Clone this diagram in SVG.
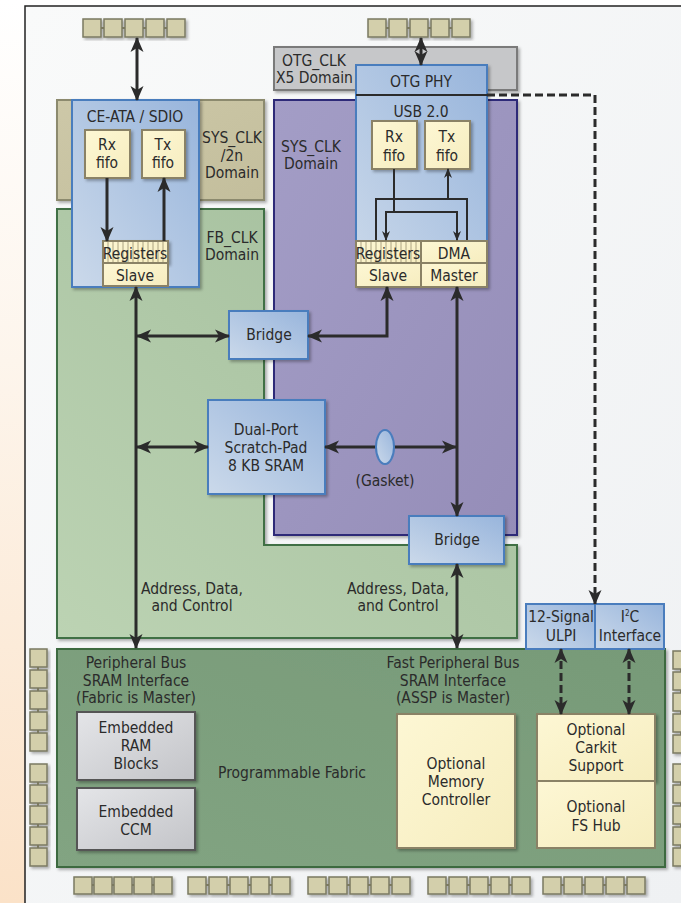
<svg xmlns="http://www.w3.org/2000/svg" width="681" height="903" viewBox="0 0 681 903">
<defs>
  <linearGradient id="gPeach" x1="0" y1="0" x2="0" y2="1">
    <stop offset="0" stop-color="#ffffff"/><stop offset="0.4" stop-color="#fdf5ec"/><stop offset="1" stop-color="#fbe2c8"/>
  </linearGradient>
  <linearGradient id="gBg" x1="0" y1="0" x2="1" y2="1">
    <stop offset="0" stop-color="#f9fafa"/><stop offset="1" stop-color="#eff1f3"/>
  </linearGradient>
  <linearGradient id="gBlue" x1="0" y1="1" x2="1" y2="0">
    <stop offset="0" stop-color="#cbd9ea"/><stop offset="1" stop-color="#98b5dc"/>
  </linearGradient>
  <linearGradient id="gYel" x1="0" y1="0" x2="1" y2="1">
    <stop offset="0" stop-color="#fdf7d4"/><stop offset="1" stop-color="#f6edbf"/>
  </linearGradient>
  <linearGradient id="gGreen" x1="0" y1="1" x2="1" y2="0">
    <stop offset="0" stop-color="#bcd3b3"/><stop offset="1" stop-color="#a2bd9b"/>
  </linearGradient>
  <linearGradient id="gPurple" x1="0" y1="0" x2="1" y2="1">
    <stop offset="0" stop-color="#a39dc6"/><stop offset="1" stop-color="#958db8"/>
  </linearGradient>
  <linearGradient id="gFab" x1="0" y1="1" x2="1" y2="0">
    <stop offset="0" stop-color="#82a482"/><stop offset="1" stop-color="#779a78"/>
  </linearGradient>
  <linearGradient id="gGray" x1="0" y1="0" x2="1" y2="1">
    <stop offset="0" stop-color="#e4e5e8"/><stop offset="1" stop-color="#c3c4c8"/>
  </linearGradient>
  <linearGradient id="gTan" x1="0" y1="0" x2="1" y2="1">
    <stop offset="0" stop-color="#cdc8a8"/><stop offset="1" stop-color="#c3be9c"/>
  </linearGradient>
  <filter id="sh" x="-10%" y="-10%" width="130%" height="130%">
    <feDropShadow dx="2" dy="2" stdDeviation="1.5" flood-color="#000" flood-opacity="0.3"/>
  </filter>
  <marker id="ah" markerUnits="userSpaceOnUse" markerWidth="15" markerHeight="15" refX="14" refY="7.5" orient="auto-start-reverse">
    <path d="M0,1 L15,7.5 L0,14 L4,7.5 Z" fill="#2b2b2b"/>
  </marker>
  <marker id="ahs" markerUnits="userSpaceOnUse" markerWidth="10" markerHeight="10" refX="9" refY="5" orient="auto-start-reverse">
    <path d="M0,1 L10,5 L0,9 L3,5 Z" fill="#2b2b2b"/>
  </marker>
  <style>
    .t{font-family:'DejaVu Sans Condensed','DejaVu Sans',sans-serif;font-stretch:condensed;font-size:15.5px;fill:#2b2b2b;text-anchor:middle}
    .tl{text-anchor:start}
    .pad{fill:#d3cfab;stroke:#7b7a62;stroke-width:1.5}
    .padln{stroke:#7b7a62;stroke-width:2}
    .blue{fill:url(#gBlue);stroke:#4a7dbd;stroke-width:2}
    .yel{fill:url(#gYel);stroke:#8a8266;stroke-width:2}
    .gray{fill:url(#gGray);stroke:#555;stroke-width:2}
    .ar{fill:none;stroke:#2b2b2b;stroke-width:3}
    .ars{fill:none;stroke:#2b2b2b;stroke-width:2}
    .dash{fill:none;stroke:#2b2b2b;stroke-width:3;stroke-dasharray:8 4}
    .tick{stroke:#9a9070;stroke-width:0.8}
  </style>
</defs>

<!-- background -->
<rect x="0" y="0" width="681" height="903" fill="#ffffff"/>
<rect x="0" y="0" width="25" height="903" fill="url(#gPeach)"/>
<rect x="25" y="6" width="656" height="897" fill="url(#gBg)"/>
<path d="M25,903 V6 H681" fill="none" stroke="#222" stroke-width="1.5"/>

<!-- domains -->
<g id="sysclk2n">
  <rect x="57" y="100" width="207" height="100" fill="url(#gTan)" stroke="#8c8a6e" stroke-width="2" filter="url(#sh)"/>
  <text class="t" x="232" y="143">SYS_CLK</text>
  <text class="t" x="232" y="161">/2n</text>
  <text class="t" x="232" y="178">Domain</text>
</g>
<g id="fbclk">
  <path d="M57,209 H264 V545 H517 V638 H57 Z" fill="url(#gGreen)" stroke="#3f6f45" stroke-width="2" filter="url(#sh)"/>
  <text class="t" x="232" y="243">FB_CLK</text>
  <text class="t" x="232" y="260">Domain</text>
</g>
<g id="otgclk">
  <rect x="274" y="47" width="243" height="43" fill="#c6c7c9" stroke="#7a7a7a" stroke-width="2" filter="url(#sh)"/>
  <text class="t" x="314" y="66">OTG_CLK</text>
  <text class="t tl" x="276" y="83">X5 Domain</text>
</g>
<g id="sysclk">
  <rect x="274" y="100" width="243" height="435" fill="url(#gPurple)" stroke="#2e2a78" stroke-width="2" filter="url(#sh)"/>
  <text class="t" x="311" y="152">SYS_CLK</text>
  <text class="t" x="311" y="169">Domain</text>
</g>
<g id="fabric">
  <rect x="57" y="649" width="608" height="218" fill="url(#gFab)" stroke="#3c6a40" stroke-width="2" filter="url(#sh)"/>
  <text class="t" x="136" y="668">Peripheral Bus</text>
  <text class="t" x="136" y="686">SRAM Interface</text>
  <text class="t" x="136" y="703">(Fabric is Master)</text>
  <text class="t" x="292" y="778">Programmable Fabric</text>
  <text class="t" x="453" y="668">Fast Peripheral Bus</text>
  <text class="t" x="453" y="686">SRAM Interface</text>
  <text class="t" x="453" y="703">(ASSP is Master)</text>
</g>

<!-- pads -->
<g id="pads-top-left" filter="url(#sh)">
  <line class="padln" x1="85" y1="28" x2="184" y2="28"/>
  <rect class="pad" x="83" y="19" width="18" height="18"/>
  <rect class="pad" x="104" y="19" width="18" height="18"/>
  <rect class="pad" x="125" y="19" width="18" height="18"/>
  <rect class="pad" x="146" y="19" width="18" height="18"/>
  <rect class="pad" x="167" y="19" width="18" height="18"/>
</g>
<g id="pads-top-right" filter="url(#sh)">
  <line class="padln" x1="370" y1="28" x2="469" y2="28"/>
  <rect class="pad" x="368" y="19" width="18" height="18"/>
  <rect class="pad" x="389" y="19" width="18" height="18"/>
  <rect class="pad" x="410" y="19" width="18" height="18"/>
  <rect class="pad" x="431" y="19" width="18" height="18"/>
  <rect class="pad" x="452" y="19" width="18" height="18"/>
</g>
<g id="pads-bottom" filter="url(#sh)">
  <line class="padln" x1="76" y1="885" x2="170" y2="885"/>
  <line class="padln" x1="190" y1="885" x2="288" y2="885"/>
  <line class="padln" x1="310" y1="885" x2="408" y2="885"/>
  <line class="padln" x1="430" y1="885" x2="528" y2="885"/>
  <line class="padln" x1="545" y1="885" x2="643" y2="885"/>
  <rect class="pad" x="74" y="877" width="18" height="17"/><rect class="pad" x="94" y="877" width="18" height="17"/><rect class="pad" x="114" y="877" width="18" height="17"/><rect class="pad" x="134" y="877" width="18" height="17"/><rect class="pad" x="154" y="877" width="18" height="17"/>
  <rect class="pad" x="188" y="877" width="18" height="17"/><rect class="pad" x="209" y="877" width="18" height="17"/><rect class="pad" x="230" y="877" width="18" height="17"/><rect class="pad" x="251" y="877" width="18" height="17"/><rect class="pad" x="272" y="877" width="18" height="17"/>
  <rect class="pad" x="308" y="877" width="18" height="17"/><rect class="pad" x="329" y="877" width="18" height="17"/><rect class="pad" x="350" y="877" width="18" height="17"/><rect class="pad" x="371" y="877" width="18" height="17"/><rect class="pad" x="392" y="877" width="18" height="17"/>
  <rect class="pad" x="428" y="877" width="18" height="17"/><rect class="pad" x="449" y="877" width="18" height="17"/><rect class="pad" x="470" y="877" width="18" height="17"/><rect class="pad" x="491" y="877" width="18" height="17"/><rect class="pad" x="512" y="877" width="18" height="17"/>
  <rect class="pad" x="543" y="877" width="18" height="17"/><rect class="pad" x="564" y="877" width="18" height="17"/><rect class="pad" x="585" y="877" width="18" height="17"/><rect class="pad" x="606" y="877" width="18" height="17"/><rect class="pad" x="627" y="877" width="18" height="17"/>
</g>
<g id="pads-left" filter="url(#sh)">
  <line class="padln" x1="38" y1="651" x2="38" y2="750"/>
  <line class="padln" x1="38" y1="765" x2="38" y2="865"/>
  <rect class="pad" x="30" y="649" width="17" height="18"/><rect class="pad" x="30" y="670" width="17" height="18"/><rect class="pad" x="30" y="691" width="17" height="18"/><rect class="pad" x="30" y="712" width="17" height="18"/><rect class="pad" x="30" y="733" width="17" height="18"/>
  <rect class="pad" x="30" y="764" width="17" height="18"/><rect class="pad" x="30" y="785" width="17" height="18"/><rect class="pad" x="30" y="806" width="17" height="18"/><rect class="pad" x="30" y="827" width="17" height="18"/><rect class="pad" x="30" y="848" width="17" height="18"/>
</g>
<g id="pads-right" filter="url(#sh)">
  <line class="padln" x1="681" y1="652" x2="681" y2="750"/>
  <line class="padln" x1="681" y1="765" x2="681" y2="865"/>
  <rect class="pad" x="673" y="651" width="17" height="18"/><rect class="pad" x="673" y="672" width="17" height="18"/><rect class="pad" x="673" y="693" width="17" height="18"/><rect class="pad" x="673" y="714" width="17" height="18"/><rect class="pad" x="673" y="735" width="17" height="18"/>
  <rect class="pad" x="673" y="764" width="17" height="18"/><rect class="pad" x="673" y="785" width="17" height="18"/><rect class="pad" x="673" y="806" width="17" height="18"/><rect class="pad" x="673" y="827" width="17" height="18"/><rect class="pad" x="673" y="848" width="17" height="18"/>
</g>

<!-- CE-ATA / SDIO -->
<g id="ceata">
  <rect class="blue" x="72" y="100" width="127" height="187" filter="url(#sh)"/>
  <text class="t" x="135" y="122">CE-ATA / SDIO</text>
  <rect class="yel" x="85" y="130" width="45" height="48" filter="url(#sh)"/>
  <text class="t" x="107" y="150">Rx</text><text class="t" x="107" y="168">fifo</text>
  <rect class="yel" x="142" y="130" width="43" height="48" filter="url(#sh)"/>
  <text class="t" x="163" y="150">Tx</text><text class="t" x="163" y="168">fifo</text>
  <rect class="yel" x="103" y="241" width="65" height="22" filter="url(#sh)"/>
  <path class="tick" d="M108,242V262M113,242V262M118,242V262M123,242V262M128,242V262M133,242V262M138,242V262M143,242V262M148,242V262M153,242V262M158,242V262M163,242V262"/>
  <text class="t" x="135" y="259">Registers</text>
  <rect class="yel" x="103" y="263" width="65" height="23"/>
  <text class="t" x="135" y="281">Slave</text>
</g>

<!-- USB / OTG PHY -->
<g id="usb">
  <rect class="blue" x="356" y="65" width="131" height="222" filter="url(#sh)"/>
  <line x1="356" y1="95" x2="487" y2="95" stroke="#2b2b2b" stroke-width="2"/>
  <text class="t" x="421" y="87">OTG PHY</text>
  <text class="t" x="421" y="117">USB 2.0</text>
  <rect class="yel" x="372" y="121" width="45" height="48" filter="url(#sh)"/>
  <text class="t" x="394" y="142">Rx</text><text class="t" x="394" y="161">fifo</text>
  <rect class="yel" x="425" y="121" width="45" height="48" filter="url(#sh)"/>
  <text class="t" x="447" y="142">Tx</text><text class="t" x="447" y="161">fifo</text>
  <rect class="yel" x="356" y="241" width="65" height="22"/>
  <path class="tick" d="M361,242V262M366,242V262M371,242V262M376,242V262M381,242V262M386,242V262M391,242V262M396,242V262M401,242V262M406,242V262M411,242V262M416,242V262"/>
  <text class="t" x="388" y="259">Registers</text>
  <rect class="yel" x="421" y="241" width="66" height="22"/>
  <text class="t" x="454" y="259">DMA</text>
  <rect class="yel" x="356" y="263" width="65" height="24"/>
  <text class="t" x="388" y="281">Slave</text>
  <rect class="yel" x="421" y="263" width="66" height="24"/>
  <text class="t" x="454" y="281">Master</text>
</g>

<g id="bridge1">
  <rect class="blue" x="229" y="311" width="79" height="48" filter="url(#sh)"/>
  <text class="t" x="269" y="340">Bridge</text>
</g>
<g id="sram">
  <rect class="blue" x="208" y="400" width="117" height="94" filter="url(#sh)"/>
  <text class="t" x="266" y="435">Dual-Port</text>
  <text class="t" x="266" y="453">Scratch-Pad</text>
  <text class="t" x="266" y="471">8 KB SRAM</text>
</g>
<g id="bridge2">
  <rect class="blue" x="409" y="516" width="95" height="48" filter="url(#sh)"/>
  <text class="t" x="457" y="545">Bridge</text>
</g>
<g id="ulpi">
  <rect class="blue" x="526" y="604" width="69" height="45"/>
  <text class="t" x="561" y="622">12-Signal</text>
  <text class="t" x="561" y="641">ULPI</text>
</g>
<g id="i2c">
  <rect class="blue" x="595" y="604" width="69" height="45"/>
  <text class="t" x="630" y="622">I<tspan font-size="8" dy="-6">2</tspan><tspan dy="6">C</tspan></text>
  <text class="t" x="630" y="641">Interface</text>
</g>
<g id="embram">
  <rect class="gray" x="77" y="712" width="118" height="68" filter="url(#sh)"/>
  <text class="t" x="136" y="733">Embedded</text>
  <text class="t" x="136" y="751">RAM</text>
  <text class="t" x="136" y="769">Blocks</text>
</g>
<g id="embccm">
  <rect class="gray" x="77" y="788" width="118" height="62" filter="url(#sh)"/>
  <text class="t" x="136" y="817">Embedded</text>
  <text class="t" x="136" y="835">CCM</text>
</g>
<g id="memctrl">
  <rect class="yel" x="397" y="714" width="118" height="134" filter="url(#sh)"/>
  <text class="t" x="456" y="769">Optional</text>
  <text class="t" x="456" y="787">Memory</text>
  <text class="t" x="456" y="805">Controller</text>
</g>
<g id="carkit">
  <rect class="yel" x="537" y="714" width="118" height="67" filter="url(#sh)"/>
  <text class="t" x="596" y="735">Optional</text>
  <text class="t" x="596" y="753">Carkit</text>
  <text class="t" x="596" y="771">Support</text>
</g>
<g id="fshub">
  <rect class="yel" x="537" y="781" width="118" height="67"/>
  <text class="t" x="596" y="812">Optional</text>
  <text class="t" x="596" y="831">FS Hub</text>
</g>

<!-- connectors -->
<g id="connectors">
  <line class="ar" x1="137" y1="38" x2="137" y2="100" marker-start="url(#ah)" marker-end="url(#ah)"/>
  <line class="ar" x1="421" y1="38" x2="421" y2="65" marker-start="url(#ah)" marker-end="url(#ah)"/>
  <line class="ar" x1="107" y1="178" x2="107" y2="241" marker-end="url(#ah)"/>
  <line class="ar" x1="164" y1="241" x2="164" y2="178" marker-end="url(#ah)"/>
  <!-- USB internal -->
  <path class="ars" d="M394,169 V212"/>
  <path class="ars" d="M386,240 V212 H457 V240" marker-start="url(#ahs)" marker-end="url(#ahs)"/>
  <path class="ars" d="M376,240 V199 H467 V240"/>
  <line class="ars" x1="448" y1="199" x2="448" y2="169" marker-end="url(#ahs)"/>
  <!-- main bus -->
  <line class="ar" x1="136" y1="287" x2="136" y2="648" marker-start="url(#ah)" marker-end="url(#ah)"/>
  <line class="ar" x1="137" y1="336" x2="229" y2="336" marker-start="url(#ah)" marker-end="url(#ah)"/>
  <path class="ar" d="M308,336 H387 V287" marker-start="url(#ah)" marker-end="url(#ah)"/>
  <line class="ar" x1="137" y1="447" x2="208" y2="447" marker-start="url(#ah)" marker-end="url(#ah)"/>
  <line class="ar" x1="325" y1="447" x2="456" y2="447" marker-start="url(#ah)" marker-end="url(#ah)"/>
  <line class="ar" x1="457" y1="287" x2="457" y2="516" marker-start="url(#ah)" marker-end="url(#ah)"/>
  <line class="ar" x1="457" y1="564" x2="457" y2="648" marker-start="url(#ah)" marker-end="url(#ah)"/>
  <path class="dash" d="M487,95 H595 V604" marker-end="url(#ah)"/>
  <line class="dash" x1="561" y1="649" x2="561" y2="714" marker-start="url(#ah)" marker-end="url(#ah)"/>
  <line class="dash" x1="629" y1="649" x2="629" y2="714" marker-start="url(#ah)" marker-end="url(#ah)"/>
  <text class="t" x="192" y="594">Address, Data,</text>
  <text class="t" x="192" y="611">and Control</text>
  <text class="t" x="398" y="594">Address, Data,</text>
  <text class="t" x="398" y="611">and Control</text>
</g>
<g id="gasket">
  <ellipse cx="385" cy="447" rx="9" ry="17" fill="url(#gBlue)" stroke="#4a7dbd" stroke-width="2"/>
  <text class="t" x="385" y="486">(Gasket)</text>
</g>
</svg>
